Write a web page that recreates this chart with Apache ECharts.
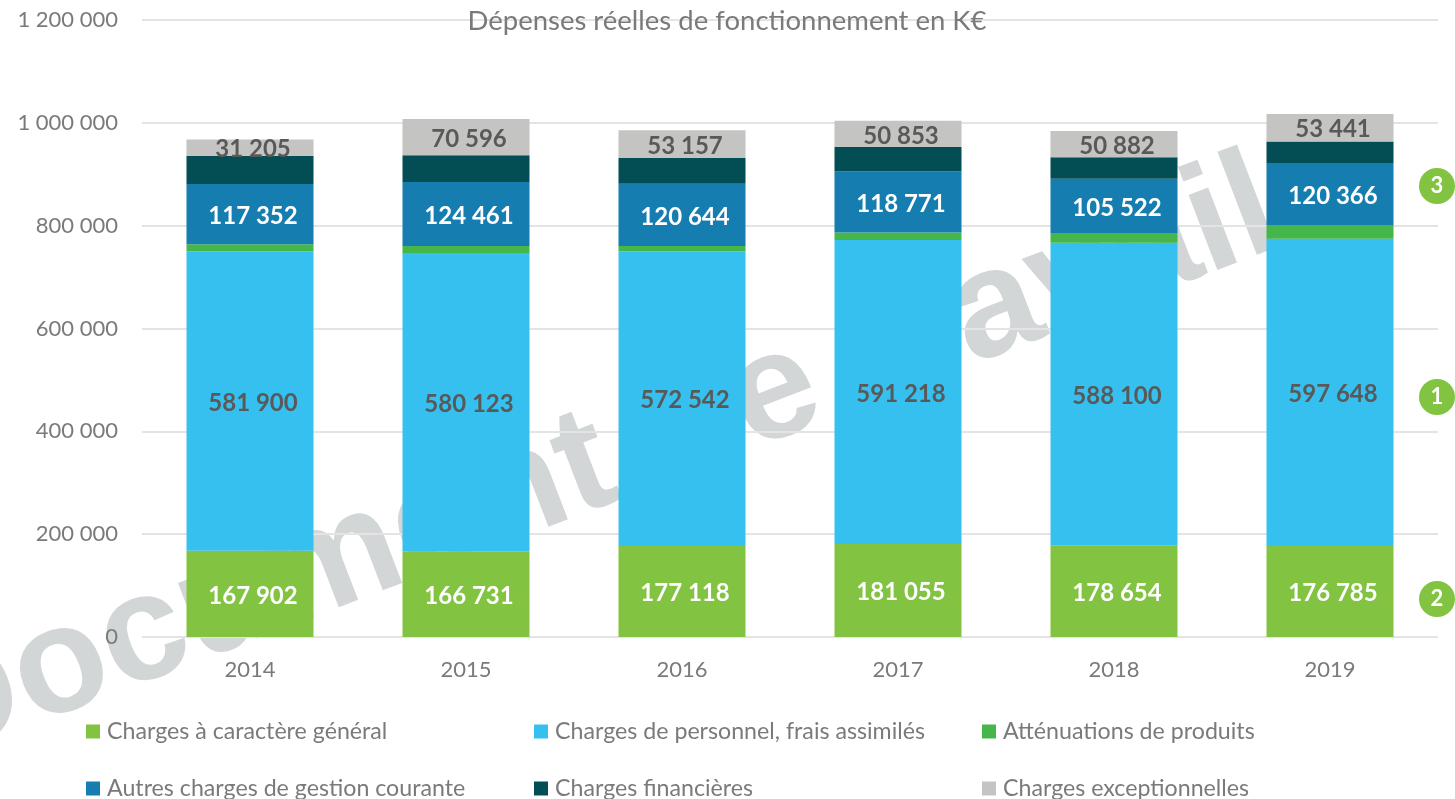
<!DOCTYPE html>
<html><head><meta charset="utf-8">
<style>html,body{margin:0;padding:0;background:#fff}#c{width:1455px;height:799px}</style>
<script src="https://cdn.jsdelivr.net/npm/echarts@6/dist/echarts.min.js"></script>
</head><body><div id="c"></div>
<script>
const categories = ['2014','2015','2016','2017','2018','2019'];
const chargesGenerales = [167902,166731,177118,181055,178654,176785];
const chargesPersonnel = [581900,580123,572542,591218,588100,597648];
const attenuations = [14000,13500,11000,14500,19000,27000];
const autresCharges = [117352,124461,120644,118771,105522,120366];
const chargesFinancieres = [55000,52000,51000,47500,42000,42000];
const chargesExceptionnelles = [31205,70596,53157,50853,50882,53441];
const names = ['Charges à caractère général','Charges de personnel, frais assimilés','Atténuations de produits','Autres charges de gestion courante','Charges financières','Charges exceptionnelles'];
const colors = ['#82c341','#35c0ef','#45b649','#157db0','#034e55','#c4c4c2'];
const values = [chargesGenerales,chargesPersonnel,attenuations,autresCharges,chargesFinancieres,chargesExceptionnelles];
const labelColors = ['#fff','#595959',null,'#fff',null,'#595959'];
const badges = [['1',397],['2',599],['3',186]];
const legendSpots = [[86,720],[534,720],[982,720],[86,777],[534,777],[982,777]];
const fmt = v => String(v).replace(/\B(?=(\d{3})+$)/g,' ');
const F = 'Lato', G = '#7a7a7a';
const chart = echarts.init(document.getElementById('c'),null,{renderer:'canvas'});
chart.setOption({
  animation:false,backgroundColor:'#fff',
  title:{text:'Dépenses réelles de fonctionnement en K€',left:722,textAlign:'center',top:2,
    textStyle:{fontFamily:F,fontSize:27.5,fontWeight:'normal',color:G}},
  grid:{left:142,top:20,width:1296,height:617,containLabel:false},
  legend:names.map((n,i)=>({left:legendSpots[i][0],top:legendSpots[i][1],padding:0,itemWidth:14,itemHeight:14,icon:'rect',
    data:[n],textStyle:{fontFamily:F,fontSize:23.2,color:G,padding:[0,0,0,2]},selectedMode:false})),
  xAxis:{type:'category',data:categories,axisLine:{show:false},axisTick:{show:false},
    axisLabel:{fontFamily:F,fontSize:22,color:G,margin:22}},
  yAxis:{type:'value',min:0,max:1200000,interval:200000,axisLine:{show:false},axisTick:{show:false},
    axisLabel:{fontFamily:F,fontSize:22,color:G,margin:24,formatter:fmt},
    splitLine:{lineStyle:{color:'#e4e4e4',width:2}}},
  graphic:[
    {type:'text',z:-1,x:-85,y:725,rotation:21*Math.PI/180,silent:true,
     style:{text:'Document de travail',fontFamily:'Liberation Sans',fontWeight:'bold',fontSize:152,fill:'#d2d6d7',textVerticalAlign:'middle'}},
    ...badges.flatMap(([t,y])=>[
      {type:'circle',z:10,shape:{cx:1437,cy:y,r:18},style:{fill:'#82c341'}},
      {type:'text',z:11,x:1437,y:y,style:{text:t,fontFamily:F,fontWeight:'bold',fontSize:22,fill:'#fff',textAlign:'center',textVerticalAlign:'middle'}}
    ])
  ],
  series:names.map((name,i)=>({
    name,type:'bar',stack:'t',data:values[i],barWidth:127,itemStyle:{color:colors[i]},
    label:{show:!!labelColors[i],position:'inside',offset:[3,2],formatter:p=>fmt(p.value),
      fontFamily:F,fontWeight:'bold',fontSize:24,color:labelColors[i]||'#fff'}
  }))
});
</script></body></html>
